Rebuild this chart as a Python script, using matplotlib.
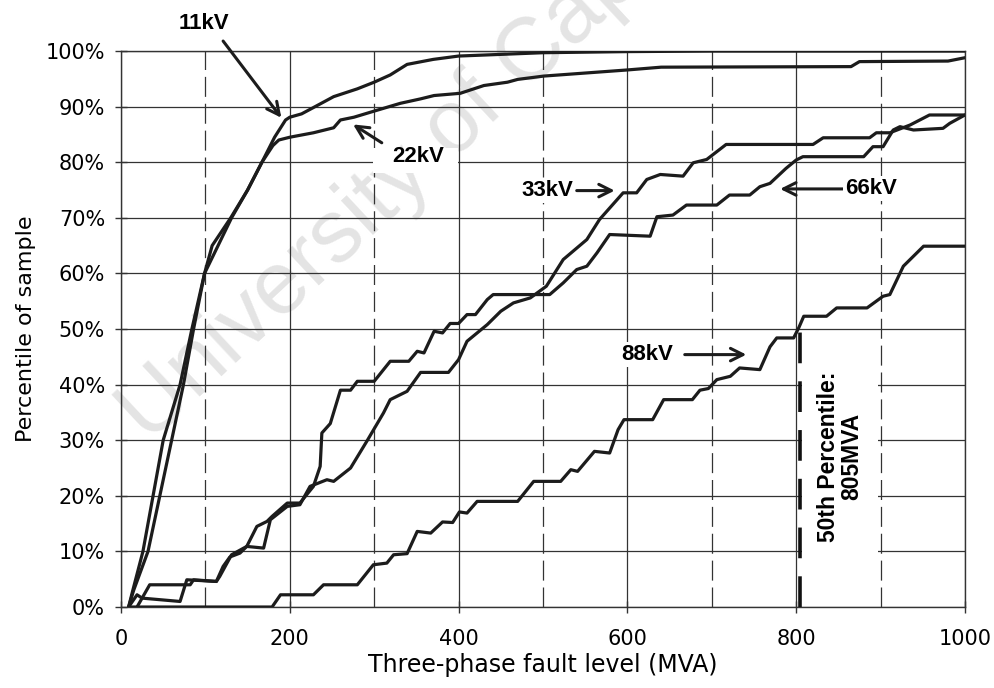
import matplotlib
matplotlib.use("Agg")
import matplotlib.pyplot as plt
from matplotlib.ticker import MultipleLocator, FuncFormatter

# fault level (MVA) vs cumulative percentile
x_11kv = [9, 14, 26, 38, 50, 70, 84, 99, 108, 130, 150, 167, 182, 195, 200, 214, 230, 252,
          280, 300, 319, 339, 370, 400, 450, 500, 600, 700, 1000]
y_11kv = [0, 3, 10, 20, 30, 40, 50, 60, 65, 70, 75, 80, 84.5, 87.6, 88.1, 88.7, 90, 91.8,
          93.2, 94.4, 95.7, 97.6, 98.5, 99.1, 99.4, 99.7, 99.9, 100, 100]

x_22kv = [9, 15, 32, 46, 60, 74, 86, 99, 115, 131, 150, 167, 180, 187, 200, 228, 252, 260,
          276, 300, 331, 355, 371, 402, 430, 458, 470, 501, 600, 640, 865, 875, 980, 1000]
y_22kv = [0, 3, 10, 20, 30, 40, 50, 60, 65, 70, 75, 80, 83, 84, 84.5, 85.3, 86.2, 87.6,
          88.1, 89.2, 90.6, 91.4, 92, 92.4, 93.8, 94.4, 94.9, 95.5, 96.6, 97.1, 97.2, 98.1, 98.2, 98.8]

x_33kv = [19, 34, 82, 86, 113, 117, 131, 149, 169, 177, 197, 212, 224, 244, 252, 272, 292,
          311, 319, 339, 355, 388, 400, 410, 422, 434, 450, 465, 485, 504, 524, 552, 567,
          595, 611, 623, 639, 666, 678, 694, 717, 820, 832, 887, 895, 911, 935, 958, 1000]
y_33kv = [0, 4, 4, 4.9, 4.6, 5.5, 9.4, 10.9, 10.6, 15.7, 18.1, 18.4, 21.7, 22.9, 22.6, 25, 30,
          34.9, 37.3, 38.8, 42.2, 42.2, 44.5, 47.8, 49.3, 50.8, 53.2, 54.7, 55.6, 57.7, 62.5, 66.1, 69.7,
          74.5, 74.5, 76.9, 77.8, 77.5, 79.9, 80.5, 83.2, 83.2, 84.4, 84.4, 85.3, 85.3, 86.7, 88.5, 88.5]

x_66kv = [9, 19, 25, 70, 78, 113, 121, 129, 141, 149, 161, 173, 179, 197, 212, 228, 236, 238,
          248, 260, 272, 280, 300, 319, 341, 351, 359, 371, 381, 390, 400, 410, 420, 434, 441,
          508, 524, 540, 552, 564, 579, 627, 635, 654, 670, 706, 721, 745, 757, 769, 788, 800,
          808, 880, 891, 903, 915, 923, 939, 974, 982, 1000]
y_66kv = [0, 2.2, 1.6, 1, 4.9, 4.6, 7.3, 9, 9.7, 10.9, 14.5, 15.4, 16.3, 18.7, 18.7, 21.7, 25.3, 31.3,
          33, 39, 39, 40.6, 40.6, 44.2, 44.2, 46, 45.7, 49.6, 49.3, 51, 51, 52.6, 52.6, 55.3, 56.2,
          56.2, 58.3, 60.7, 61.3, 63.7, 67, 66.7, 70.2, 70.5, 72.3, 72.3, 74.1, 74.1, 75.6, 76.2, 78.9, 80.4,
          81, 81, 82.8, 82.8, 85.8, 86.4, 85.8, 86.1, 87, 88.5]

x_88kv = [10, 179, 189, 228, 240, 280, 299, 315, 323, 339, 351, 367, 381, 393, 401, 410, 422,
          470, 489, 521, 533, 541, 561, 579, 589, 596, 630, 643, 677, 686, 696, 706, 722, 733,
          757, 769, 777, 797, 803, 809, 836, 848, 884, 903, 911, 927, 939, 951, 1000]
y_88kv = [0, 0, 2.2, 2.2, 4, 4, 7.6, 7.9, 9.4, 9.6, 13.6, 13.3, 15.3, 15.2, 17.1, 16.9, 19,
          19, 22.6, 22.6, 24.7, 24.4, 28, 27.7, 31.9, 33.7, 33.7, 37.3, 37.3, 39, 39.3, 40.9, 41.5, 43,
          42.7, 46.8, 48.4, 48.4, 50.2, 52.3, 52.3, 53.8, 53.8, 55.9, 56.2, 61.3, 63.1, 64.9, 64.9]

p50_mva = 805
p50_level = 50

plt.rcParams['font.family'] = ['DejaVu Sans']
line_col = '#1c1c1c'

fig = plt.figure(figsize=(9.95, 6.88), dpi=100)
ax = fig.add_axes([0.1216, 0.1177, 0.8482, 0.8081])
ax.set_facecolor('none')

# faint watermark behind the plot (runs off the top edge, as in the scan)
fig.text(0.15, 0.355, 'University of Cape Town', fontsize=64, color='#e4e4e4',
         family='Liberation Sans', rotation=43, rotation_mode='anchor',
         ha='left', va='baseline', zorder=-1)

for xs, ys in [(x_11kv, y_11kv), (x_22kv, y_22kv), (x_33kv, y_33kv),
               (x_66kv, y_66kv), (x_88kv, y_88kv)]:
    ax.plot(xs, ys, color=line_col, lw=2.3, solid_joinstyle='round',
            solid_capstyle='round', zorder=3)

ax.vlines(p50_mva, 0, p50_level, colors='#111111', lw=2.6,
          linestyles=(0, (8.5, 5)), zorder=4)

ax.set_xlim(0, 1000)
ax.set_ylim(0, 100)
ax.xaxis.set_major_locator(MultipleLocator(200))
ax.xaxis.set_minor_locator(MultipleLocator(100))
ax.yaxis.set_major_locator(MultipleLocator(10))
ax.yaxis.set_major_formatter(FuncFormatter(lambda v, p: '%d%%' % v))

ax.set_axisbelow(True)
ax.grid(which='major', color='#333333', lw=0.9)
ax.grid(which='minor', axis='x', color='#333333', lw=0.9, linestyle=(0, (16, 5.5)))
ax.tick_params(which='minor', length=0)
ax.tick_params(which='major', direction='inout', length=9, width=1, labelsize=15,
               color='#333333')
ax.tick_params(axis='x', pad=11)
ax.tick_params(axis='y', pad=7)
for s in ax.spines.values():
    s.set_color('#333333')
    s.set_linewidth(1.0)

ax.set_xlabel('Three-phase fault level (MVA)', fontsize=17, labelpad=3)
ax.set_ylabel('Percentile of sample', fontsize=16, labelpad=7)

# white patch behind the rotated note
ax.add_patch(plt.Rectangle((807, 3), 90, 45, facecolor='white', edgecolor='none', zorder=1.5))
ax.text(852, 27, '50th Percentile:\n805MVA', rotation=90, ha='center', va='center',
        fontsize=16.5, fontweight='bold', family='Liberation Sans', linespacing=1.0, zorder=5)

lab = dict(fontsize=16, fontweight='bold', family='Liberation Sans', ha='center', va='center',
           zorder=5, clip_on=False)
box = dict(facecolor='white', edgecolor='none', pad=1.5)
arw = dict(arrowstyle='->,head_length=0.9,head_width=0.45', lw=2.2, color=line_col,
           shrinkA=0, shrinkB=0)

ax.text(98, 105, '11kV', **lab)
ax.annotate('', xy=(190, 88), xytext=(121, 101.8), arrowprops=arw, annotation_clip=False)

ax.add_patch(plt.Rectangle((299, 78), 100, 4.5, facecolor='white', edgecolor='none', zorder=1.5))
ax.text(352, 81, '22kV', **lab)
ax.annotate('', xy=(275, 86.8), xytext=(309, 83.5), arrowprops=arw)

ax.text(505, 74.9, '33kV', bbox=box, **lab)
ax.annotate('', xy=(585, 74.9), xytext=(540, 74.9), arrowprops=arw)

ax.text(889, 75.2, '66kV', bbox=box, **lab)
ax.annotate('', xy=(781, 75.2), xytext=(856, 75.2), arrowprops=arw)

ax.text(624, 45.5, '88kV', bbox=box, **lab)
ax.annotate('', xy=(741, 45.4), xytext=(668, 45.4), arrowprops=arw)

fig.savefig('out.png', dpi=100)
